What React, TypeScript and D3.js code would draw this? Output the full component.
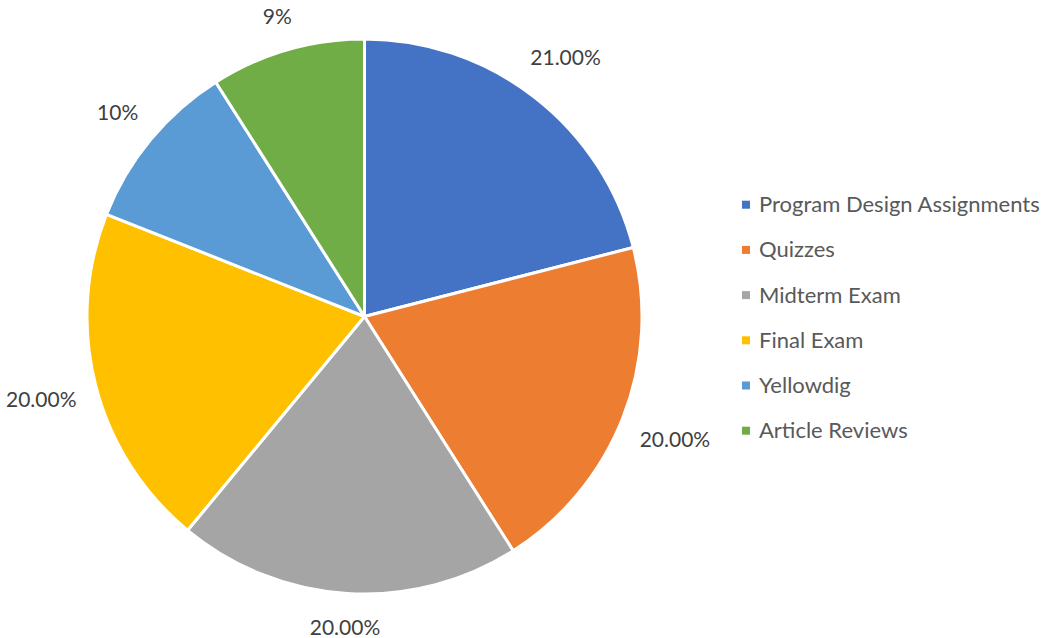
import { arc, pie, scalePoint, select } from "d3";
import { useEffect, useRef } from "react";

const categories = [
  "Program Design Assignments",
  "Quizzes",
  "Midterm Exam",
  "Final Exam",
  "Yellowdig",
  "Article Reviews",
];
const shares = [21, 20, 20, 20, 10, 9];
const shareLabels = ["21.00%", "20.00%", "20.00%", "20.00%", "10%", "9%"];
const colors = ["#4472C4", "#ED7D31", "#A5A5A5", "#FFC000", "#5B9BD5", "#70AD47"];

const width = 1045;
const height = 638;

export default function App() {
  const svgRef = useRef<SVGSVGElement | null>(null);

  useEffect(() => {
    document.body.style.margin = "0";
    if (!svgRef.current) return;
    const svg = select(svgRef.current);
    svg.selectAll("*").remove();

    const cx = 364.5;
    const cy = 316.5;
    const radius = 277.5;
    const font = "Lato, 'Open Sans', sans-serif";

    const rows = categories.map((name, i) => ({ name, value: shares[i], label: shareLabels[i], color: colors[i] }));
    const slices = pie<(typeof rows)[number]>()
      .sort(null)
      .value((d) => d.value)(rows);
    const sliceArc = arc<any>().innerRadius(0).outerRadius(radius);

    const chart = svg.append("g").attr("transform", `translate(${cx},${cy})`);
    chart
      .selectAll("path")
      .data(slices)
      .join("path")
      .attr("d", sliceArc)
      .attr("fill", (d) => d.data.color)
      .attr("stroke", "#ffffff")
      .attr("stroke-width", 3)
      .attr("stroke-linejoin", "round");

    // outside-end data labels, pushed out until the text box clears the rim
    const pad = 19;
    const labels = chart
      .selectAll("text")
      .data(slices)
      .join("text")
      .attr("font-family", font)
      .attr("font-size", 21)
      .attr("fill", "#404040")
      .attr("text-anchor", "middle")
      .text((d) => d.data.label);
    labels.each(function (d) {
      const node = this as SVGTextElement;
      const box = node.getBBox();
      const mid = (d.startAngle + d.endAngle) / 2;
      const ux = Math.sin(mid);
      const uy = -Math.cos(mid);
      const reach = radius + pad + (box.width / 2) * Math.abs(ux) + (box.height / 2) * Math.abs(uy);
      select(node)
        .attr("x", ux * reach)
        .attr("y", uy * reach + 7.5);
    });

    const rowY = scalePoint<string>().domain(categories).range([204.7, 430.7]);
    const legend = svg.append("g");
    const item = legend
      .selectAll("g")
      .data(rows)
      .join("g")
      .attr("transform", (d) => `translate(742,${rowY(d.name)})`);
    item
      .append("rect")
      .attr("x", 0)
      .attr("y", -4)
      .attr("width", 8)
      .attr("height", 8)
      .attr("fill", (d) => d.color);
    item
      .append("text")
      .attr("x", 17)
      .attr("y", 7.5)
      .attr("font-family", font)
      .attr("font-size", 22)
      .attr("fill", "#595959")
      .text((d) => d.name);
  }, []);

  return (
    <svg
      ref={svgRef}
      width={width}
      height={height}
      viewBox={`0 0 ${width} ${height}`}
      style={{ display: "block", background: "#ffffff" }}
      role="img"
      aria-label="Grade weighting pie chart"
    />
  );
}
